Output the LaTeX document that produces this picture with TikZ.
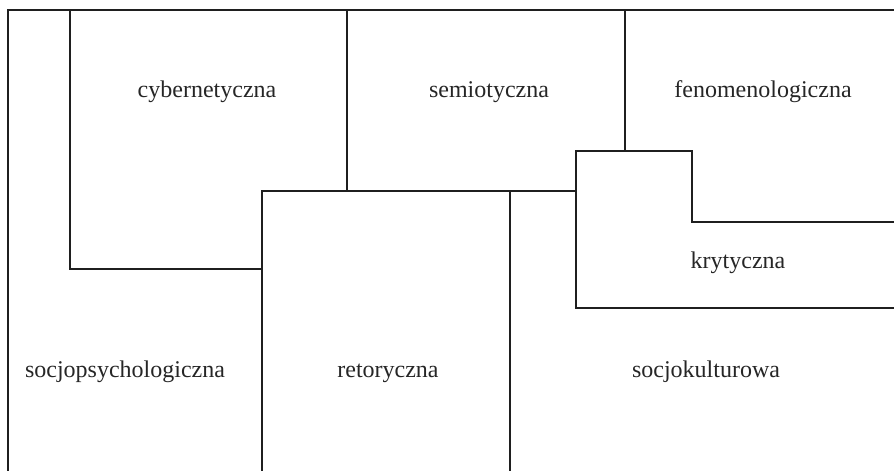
\documentclass[tikz,border=0pt]{standalone}
\usepackage{fontspec}
\setmainfont{Liberation Serif}
\begin{document}
\begin{tikzpicture}[x=1pt,y=-1pt,
  wall/.style={draw=black!88,line width=2.1pt,line cap=rect,line join=miter},
  lbl/.style={anchor=base,inner sep=0pt,font=\fontsize{24}{28}\selectfont,text=black!85}]
\useasboundingbox (0,0) rectangle (894,471);
% walls
\draw[wall] (8,471) -- (8,10) -- (894,10);
\draw[wall] (70,10) -- (70,269) -- (262,269);
\draw[wall] (347,10) -- (347,191);
\draw[wall] (262,471) -- (262,191) -- (576,191);
\draw[wall] (510,191) -- (510,471);
\draw[wall] (625,10) -- (625,151);
\draw[wall] (894,222) -- (692,222) -- (692,151) -- (576,151) -- (576,308) -- (894,308);
% labels
\node[lbl] (cyb) at (207,97) {cybernetyczna};
\node[lbl] (sem) at (489,97) {semiotyczna};
\node[lbl] (fen) at (763,97) {fenomenologiczna};
\node[lbl] (kry) at (738,268) {krytyczna};
\node[lbl] (soc) at (125,377) {socjopsychologiczna};
\node[lbl] (ret) at (388,377) {retoryczna};
\node[lbl] (kul) at (706,377) {socjokulturowa};
\end{tikzpicture}
\end{document}
